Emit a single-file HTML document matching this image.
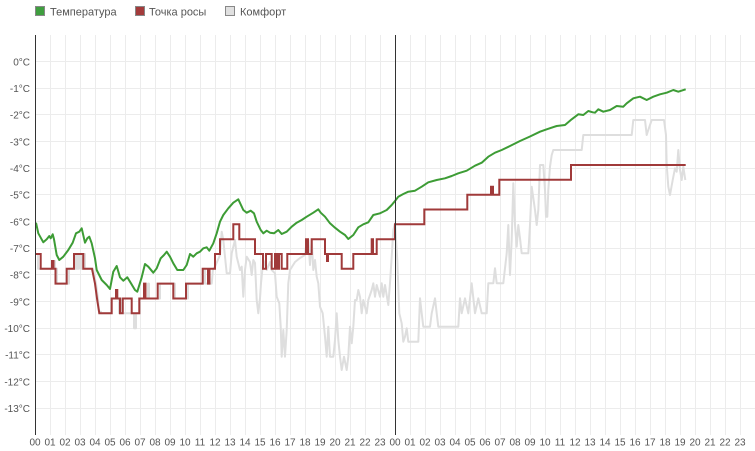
<!DOCTYPE html>
<html>
<head>
<meta charset="utf-8">
<style>
html,body{margin:0;padding:0;background:#fff;}
svg{display:block;}
text{font-family:"Liberation Sans",sans-serif;fill:#555;}
</style>
</head>
<body>
<svg width="755" height="451" viewBox="0 0 755 451" xmlns="http://www.w3.org/2000/svg">
<!-- legend -->
<rect x="35.5" y="6.5" width="9" height="9" fill="#3f9e3f" stroke="#888" stroke-width="1"/>
<text x="50" y="15.5" font-size="11">Температура</text>
<rect x="135.5" y="6.5" width="9" height="9" fill="#a33b3b" stroke="#888" stroke-width="1"/>
<text x="149" y="15.5" font-size="11">Точка росы</text>
<rect x="225.5" y="6.5" width="9" height="9" fill="#e0e0e0" stroke="#888" stroke-width="1"/>
<text x="240" y="15.5" font-size="11">Комфорт</text>

<!-- grid -->
<g stroke="#ececec" stroke-width="1">
<path d="M50.5,35V435M65.5,35V435M80.5,35V435M95.5,35V435M110.5,35V435M125.5,35V435M140.5,35V435M155.5,35V435M170.5,35V435M185.5,35V435M200.5,35V435M215.5,35V435M230.5,35V435M245.5,35V435M260.5,35V435M275.5,35V435M290.5,35V435M305.5,35V435M320.5,35V435M335.5,35V435M350.5,35V435M365.5,35V435M380.5,35V435M410.5,35V435M425.5,35V435M440.5,35V435M455.5,35V435M470.5,35V435M485.5,35V435M500.5,35V435M515.5,35V435M530.5,35V435M545.5,35V435M560.5,35V435M575.5,35V435M590.5,35V435M605.5,35V435M620.5,35V435M635.5,35V435M650.5,35V435M665.5,35V435M680.5,35V435M695.5,35V435M710.5,35V435M725.5,35V435M740.5,35V435"/>
<path d="M35,61.5H755M35,88.5H755M35,114.5H755M35,141.5H755M35,168.5H755M35,194.5H755M35,221.5H755M35,248.5H755M35,274.5H755M35,301.5H755M35,328.5H755M35,354.5H755M35,381.5H755M35,408.5H755"/>
</g>

<!-- y labels -->
<g font-size="10" text-anchor="end">
<text x="30" y="65.3">0°C</text>
<text x="30" y="92">-1°C</text>
<text x="30" y="118.7">-2°C</text>
<text x="30" y="145.3">-3°C</text>
<text x="30" y="172">-4°C</text>
<text x="30" y="198.7">-5°C</text>
<text x="30" y="225.3">-6°C</text>
<text x="30" y="252">-7°C</text>
<text x="30" y="278.7">-8°C</text>
<text x="30" y="305.3">-9°C</text>
<text x="30" y="332">-10°C</text>
<text x="30" y="358.7">-11°C</text>
<text x="30" y="385.3">-12°C</text>
<text x="30" y="412">-13°C</text>
</g>

<!-- x labels -->
<g font-size="10" text-anchor="middle">
<text x="35" y="445.5">00</text><text x="50" y="445.5">01</text><text x="65" y="445.5">02</text><text x="80" y="445.5">03</text><text x="95" y="445.5">04</text><text x="110" y="445.5">05</text><text x="125" y="445.5">06</text><text x="140" y="445.5">07</text><text x="155" y="445.5">08</text><text x="170" y="445.5">09</text><text x="185" y="445.5">10</text><text x="200" y="445.5">11</text><text x="215" y="445.5">12</text><text x="230" y="445.5">13</text><text x="245" y="445.5">14</text><text x="260" y="445.5">15</text><text x="275" y="445.5">16</text><text x="290" y="445.5">17</text><text x="305" y="445.5">18</text><text x="320" y="445.5">19</text><text x="335" y="445.5">20</text><text x="350" y="445.5">21</text><text x="365" y="445.5">22</text><text x="380" y="445.5">23</text>
<text x="395" y="445.5">00</text><text x="410" y="445.5">01</text><text x="425" y="445.5">02</text><text x="440" y="445.5">03</text><text x="455" y="445.5">04</text><text x="470" y="445.5">05</text><text x="485" y="445.5">06</text><text x="500" y="445.5">07</text><text x="515" y="445.5">08</text><text x="530" y="445.5">09</text><text x="545" y="445.5">10</text><text x="560" y="445.5">11</text><text x="575" y="445.5">12</text><text x="590" y="445.5">13</text><text x="605" y="445.5">14</text><text x="620" y="445.5">15</text><text x="635" y="445.5">16</text><text x="650" y="445.5">17</text><text x="665" y="445.5">18</text><text x="680" y="445.5">19</text><text x="695" y="445.5">20</text><text x="710" y="445.5">21</text><text x="725" y="445.5">22</text><text x="740" y="445.5">23</text>
</g>

<!-- comfort (grey) -->
<path fill="none" stroke="#dedede" stroke-width="2" stroke-linejoin="round" d="M36,254 H38 V268.8 H52 V261 H55 V268.8 H57 V283.6 H69 V268.8 H76 V254 H77 V268.8 H79 V254 H81 V268.8 H83 V254 H85 V268.8 H93 L96,283.6 L98,298.5 L99,311.7 H101 V313.3 H111 V298.5 H119 V313.3 H121 V298.5 H123 V313.3 H134 V328.3 H136 V313.3 H140 V298.5 H148 V283.6 H149 V298.5 H160 V283.6 H175 V298.5 H188 V283.6 H203 V268.8 H205 V283.6 L211.7,283.6 L213,268.8 L215,266.7 L220,255 L221.7,231.7 L223.3,240 L225,256.7 L226.7,273.3 L230,273.3 L231.7,253.3 L235,240 L236.7,256.7 L240,270 L241.7,266.7 L243.3,296.7 L245,270 L246.7,256.7 L250,262 L251.7,275 L253.3,260 L255,263 L256.7,300 L258.3,313.3 L260,298.3 L261,283.3 L263.3,260 L266.7,270 L270,262 L271.7,270 L275,273.3 L276.7,296.7 L279.3,303.3 L280.7,326.7 L281.7,356.7 L283.3,330 L285,356.7 L286.7,330 L288.3,283.3 L290,270 L295,262 L300,258 L305,255 L306.7,240 L308.3,240 L310,265 L311.7,240 L313.3,270 L315,260 L316.7,276.7 L318.3,283.3 L320,306.7 L322.7,313.3 L325,336.7 L326.7,356.7 L328.3,326.7 L330,356.7 L333.3,356.7 L335,340 L336.7,313.3 L338.3,340 L340,356.7 L341.7,370 L344,356.7 L346.7,370 L348.3,356.7 L350,326.7 L351.7,343.3 L353.3,326.7 L355,300 L356.7,300 L358.3,290 L360,296.7 L361.7,313.3 L363.3,300 L366.7,313.3 L368.3,300 L371.7,290 L373.3,283.3 L375,296.7 L376.7,285 L380,296.7 L381.7,283.3 L383.3,296.7 L385,285 L388.3,305 L390,283.3 L391.7,256.7 L393.3,230 L395,223.3 L397.3,260 L399.3,313.3 L401.7,323.3 L403.3,341.7 L405,336.7 L406.7,328.3 L408.3,341.7 L418.3,341.7 L420,298.3 L421.7,313.3 L423.3,326.7 L430,326.7 L431.7,313.3 L435,298.3 L436.7,313.3 L438.3,326.7 L458.3,326.7 L460,298.3 L461.7,313.3 L465,298.3 L468.3,313.3 L471.7,283.3 L475,313.3 L478.3,298.3 L481.7,313.3 L486.7,313.3 L488.3,283.3 L493.3,283.3 L495,268.3 L496.7,283.3 L503.3,283.3 L506.7,253.3 L508.3,225 L510,275 L511.7,240 L513.3,183.3 L515,225 L516.7,246.7 L518.3,225 L520,238.3 L521.7,253.3 L528.3,253.3 L530,225 L531.7,186.7 L535,210 L536.7,225 L538.3,210 L540,165 L543.3,165 L545,190 L546,216.7 L547.3,216.7 L548.3,190 L550,166.7 L551.7,155 L553.3,150 L581.7,150 L583.3,135 L631.7,135 L633.3,120 L645,120 L646.7,135 L648.3,130 L651.7,120 L664,120 L666,135 L666.7,165 L668.3,186.7 L670,195 L672.7,180 L675,168.3 L676.7,171.7 L678.3,150 L680,170 L681.7,180 L683.3,166.7 L685.3,180"/>

<!-- dew point (red) -->
<path fill="none" stroke="#a03a3a" stroke-width="2" stroke-linejoin="miter" d="M36,254 H40.7 V268.8 H52 V261 H53.5 V268.8 H55.5 V283.6 H66.7 V268.8 H74 V254 H83.3 V268.8 H92 L95,283.6 L97,298.5 L99.3,313.3 H111.7 V298.5 H116 V290 H117.3 V298.5 H120 V313.3 H122.7 V298.5 H131.7 V313.3 H139.3 V298.5 H144 V283.6 H145.5 V298.5 H157.7 V283.6 H173.3 V298.5 H186 V283.6 H202.7 V268.8 H208 V283.6 H209.5 V268.8 H215 V254 H220 V239.2 H233.3 V224.3 H239.3 V239.2 H255 V254 H263 V268.8 H266 V254 H271.7 V268.8 H275 V254 H277 V268.8 H279 V254 H281.7 V268.8 H287.3 V254 H306 V239.2 H308 V254 H311.7 V239.2 H325 V254 H327 V261 H328 V254 H341.7 V268.8 H353.3 V254 H371.7 V239.2 H373 V254 H376.7 V239.2 H395 V224.3 H424.3 V209.5 H467.3 V194.7 H491 V186.7 H493 V194.7 H499.3 V179.8 H571 V165 H685.7"/>

<!-- temperature (green) -->
<path fill="none" stroke="#3d9c35" stroke-width="2" stroke-linejoin="round" d="M36,222.7 L38.3,233.3 L43.3,242.3 L46.7,239.3 L49.3,236 L50.7,238.3 L52.7,234.3 L54,239.3 L56.7,255 L59.3,260 L63.3,256.7 L68.3,250 L72.7,242.7 L76,233.3 L79.3,231.7 L81.7,228.3 L85,242.7 L87.3,238.3 L89.3,236.7 L91.7,243.3 L95,258.3 L96.7,270 L101.7,280 L106.7,285 L110,289 L113.3,271.7 L116.7,266 L120,277.3 L123.3,280.7 L127.3,277.3 L130,281.7 L135,290 L137.3,291.7 L141.7,277.3 L145,264 L148.3,266.7 L153.3,272.7 L156.7,268.3 L160.7,258.3 L164,255 L166.7,251.7 L170,256.7 L173.3,263.3 L177.3,270 L183.3,270 L186.7,265 L190,254 L193.3,256.7 L196.7,253.3 L200,251.7 L203.3,248.3 L206.7,247.3 L209.3,250.7 L213.3,243.3 L216.7,233.3 L220,221.7 L223.3,215 L228.3,208.3 L233.3,202.7 L238.3,199.3 L243.3,210 L246.7,212.7 L250.7,210.7 L254,213.3 L256.7,221.7 L260.7,230 L263.3,233.3 L266.7,230.7 L270,232.7 L274,233.3 L278.3,230 L281.7,234 L286.7,231.7 L291.7,226.7 L296.7,222.7 L301.7,220 L306.7,216.7 L313.3,212.7 L318.3,209.3 L320.7,212.7 L325,216.7 L330,223.3 L335,227.7 L340,231.7 L345,235 L348.3,239 L353.3,235 L358.3,227.3 L363.3,224.3 L368.3,222.3 L373.3,215 L380,213.3 L386.7,210 L391.7,205 L395,201 L398.3,196.7 L403.3,194 L408.3,191.7 L415,190.7 L421.7,186.7 L428.3,182.3 L436.7,180 L445,178.3 L451.7,176 L458.3,173.3 L466.7,170.7 L475,165.7 L481.7,162.7 L488.3,156.7 L495,152.7 L501.7,150 L510,146 L520,141 L530,136.5 L540,131.7 L546.7,129.3 L556.7,126 L565,125 L571.7,119.3 L578.3,114.3 L583.3,115 L588.3,111 L592.7,112.3 L595,112.7 L598.3,109.3 L603.3,111.7 L610,110 L616.7,106 L623.3,106.7 L626.7,103.3 L633.3,98.3 L640,96.7 L646.7,100 L653.3,96.7 L660,94.3 L666.7,92.7 L673.3,90 L678.3,91.7 L685.7,89.3"/>

<!-- axes -->
<path d="M35.5,35V435M395.5,35V435" stroke="#333" stroke-width="1"/>
</svg>
</body>
</html>
